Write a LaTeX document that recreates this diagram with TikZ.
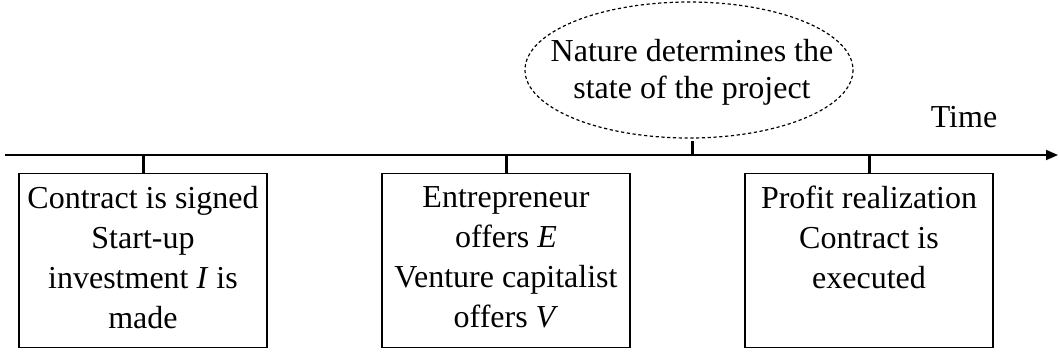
\documentclass[tikz,border=0pt]{standalone}
\usepackage{fontspec}
\setmainfont{Liberation Serif}
\usetikzlibrary{arrows.meta}

\begin{document}
\begin{tikzpicture}[x=0.5pt,y=-0.5pt,
        stage/.style={draw=black,line width=0.7pt,minimum width=124pt,minimum height=87pt,anchor=north,inner sep=0pt},
        words/.style={anchor=north,align=center,font=\fontsize{16}{20}\selectfont,inner sep=0pt},
        tick/.style={line width=1.5pt}]
        \useasboundingbox (0,0) rectangle (1059,354);

        \coordinate (start) at (5,155);
        \coordinate (end) at (1058,155);
        \draw[line width=0.9pt,-{Triangle[length=6pt,width=5pt]}] (start) -- (end);

        \node[stage] (box1) at (143,173) {};
        \node[stage] (box2) at (506,173) {};
        \node[stage] (box3) at (869,173) {};

        \node[words] (txt1) at (143,186) {Contract is signed\\Start-up\\investment \textit{I} is\\made};
        \node[words] (txt2) at (506,186) {Entrepreneur\\offers \textit{E}\\Venture capitalist\\offers \textit{V}};
        \node[words] (txt3) at (869,186) {Profit realization\\Contract is\\executed};

        % nature's move, ellipse drawn round the text
        \node[align=center,inner sep=0pt,font=\fontsize{16}{18.5}\selectfont] (nature) at (692,72) {Nature determines the\\state of the project};
        \draw[dash pattern=on 1.6pt off 1.3pt,line width=0.6pt] (689,70) ellipse [x radius=164,y radius=68];
        \node[font=\fontsize{16}{20}\selectfont] (time) at (964,117) {Time};

        \coordinate (n1) at (143,155);
        \coordinate (n2) at (506,155);
        \coordinate (n3) at (692,155);
        \coordinate (n4) at (869,155);

        \draw[tick] (box1.north) -- (n1);
        \draw[tick] (box2.north) -- (n2);
        \draw[tick] (n3) -- ++(0,-14);
        \draw[tick] (box3.north) -- (n4);
    \end{tikzpicture}
\end{document}
